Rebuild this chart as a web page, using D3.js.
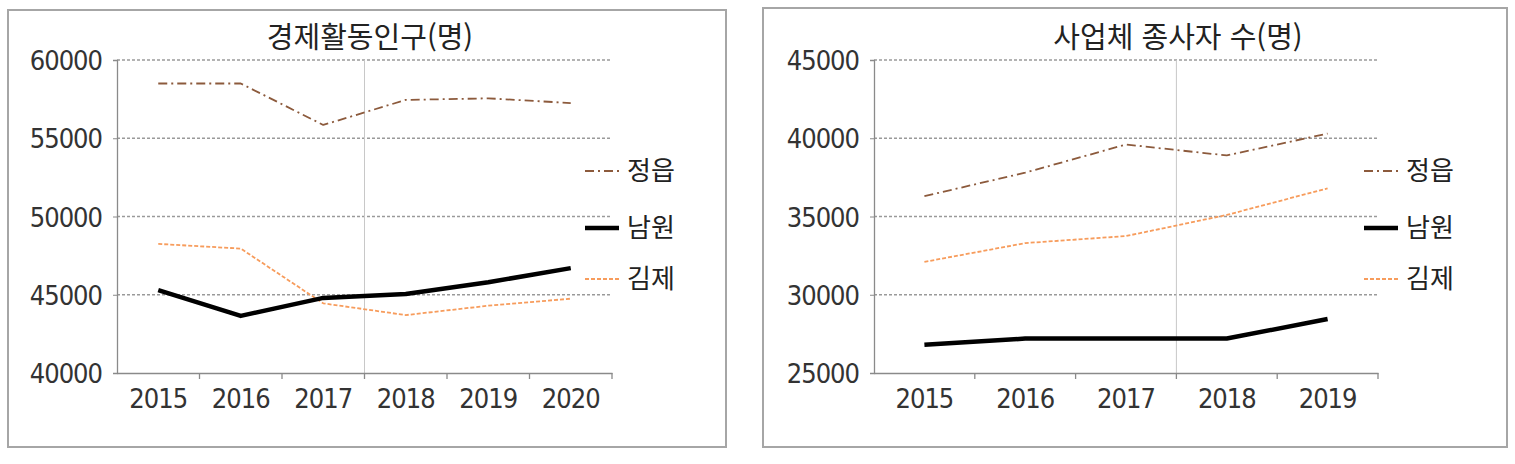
<!DOCTYPE html>
<html lang="ko">
<head>
  <meta charset="utf-8">
  <title>경제활동인구 / 사업체 종사자 수</title>
  <script src="https://d3js.org/d3.v7.min.js"></script>
  <style>
    body { margin: 0; background: #fff; }
    .frame { fill: none; stroke: #a6a6a6; stroke-width: 2; }
    .title { font-family: "Noto Sans CJK KR", sans-serif; font-size: 29px; fill: #222; }
    .ytick, .xtick { font-family: "DejaVu Sans", sans-serif; font-stretch: condensed; font-size: 27px; letter-spacing: -1px; fill: #333; }
    .legend { font-family: "Noto Sans CJK KR", sans-serif; font-size: 26px; fill: #222; }
  </style>
</head>
<body>
<script>
// series names
var names = ["정읍", "남원", "김제"];

// chart 1: 경제활동인구(명)
var years1 = ["2015", "2016", "2017", "2018", "2019", "2020"];
var jeongeup1 = [58500, 58500, 55850, 57450, 57550, 57250];
var namwon1 = [45300, 43650, 44800, 45050, 45800, 46700];
var gimje1 = [48250, 47950, 44450, 43700, 44300, 44750];
var ticks1 = [40000, 45000, 50000, 55000, 60000];

// chart 2: 사업체 종사자 수(명)
var years2 = ["2015", "2016", "2017", "2018", "2019"];
var jeongeup2 = [36300, 37800, 39600, 38900, 40300];
var namwon2 = [26800, 27200, 27200, 27200, 28450];
var gimje2 = [32100, 33300, 33750, 35100, 36800];
var ticks2 = [25000, 30000, 35000, 40000, 45000];

var styles = [
  { color: "#8c5a3c", width: 1.8, dash: "9,4,2,4" },
  { color: "#000000", width: 4.5, dash: null },
  { color: "#f79c5c", width: 1.8, dash: "4,2" }
];

var svg = d3.select("body").append("svg")
  .attr("width", 1515)
  .attr("height", 464);

function drawChart(opt) {
  var g = svg.append("g");

  g.append("rect").attr("class", "frame")
    .attr("x", opt.box[0]).attr("y", opt.box[1])
    .attr("width", opt.box[2]).attr("height", opt.box[3]);

  var x = d3.scaleBand().domain(opt.years).range([opt.x0, opt.x1]);
  var y = d3.scaleLinear().domain([opt.ticks[0], opt.ticks[opt.ticks.length - 1]]).range([373, 60]);

  // gridlines
  g.selectAll(".grid").data(opt.ticks.slice(1)).enter().append("line")
    .attr("x1", opt.x0).attr("x2", opt.x1)
    .attr("y1", d => y(d)).attr("y2", d => y(d))
    .attr("stroke", "#9a9a9a").attr("stroke-width", 1.3)
    .attr("stroke-dasharray", "3,2");

  // the thin vertical line in the middle of the plot
  g.append("line")
    .attr("x1", x(opt.years[opt.mid]) ).attr("x2", x(opt.years[opt.mid]))
    .attr("y1", 60).attr("y2", 373)
    .attr("stroke", "#c8c8c8").attr("stroke-width", 1);

  // y axis
  var yAxis = g.append("g").attr("transform", "translate(" + opt.x0 + ",0)")
    .call(d3.axisLeft(y).tickValues(opt.ticks).tickSize(4).tickFormat(d3.format("d")));
  yAxis.select(".domain").attr("stroke", "#8a8a8a").attr("stroke-width", 1.3);
  yAxis.selectAll(".tick line").attr("stroke", "#8a8a8a");
  yAxis.selectAll("text").attr("class", "ytick").attr("x", -15).attr("dy", "0.36em").attr("font-size", null).attr("font-family", null);

  // x axis
  var xAxis = g.append("g").attr("transform", "translate(0,373)")
    .call(d3.axisBottom(x).tickSize(0).tickSizeOuter(0));
  xAxis.select(".domain").attr("stroke", "#8a8a8a").attr("stroke-width", 1.3);
  xAxis.selectAll("text").attr("class", "xtick").attr("y", 16).attr("dy", "0.71em").attr("font-size", null).attr("font-family", null);

  // band separator ticks
  var edges = opt.years.map(d => x(d)).concat([opt.x1]);
  g.selectAll(".sep").data(edges.slice(1)).enter().append("line")
    .attr("x1", d => d).attr("x2", d => d)
    .attr("y1", 373).attr("y2", 379)
    .attr("stroke", "#8a8a8a").attr("stroke-width", 1.3);

  // title
  g.append("text").attr("class", "title")
    .attr("x", opt.titleX).attr("y", 48)
    .attr("text-anchor", "middle")
    .text(opt.title);

  var line = d3.line()
    .x((d, i) => x(opt.years[i]) + x.bandwidth() / 2)
    .y(d => y(d));

  // draw 김제 first, then 정읍, 남원 on top
  [2, 0, 1].forEach(function (k) {
    g.append("path")
      .datum(opt.series[k])
      .attr("fill", "none")
      .attr("stroke", styles[k].color)
      .attr("stroke-width", styles[k].width)
      .attr("stroke-dasharray", styles[k].dash)
      .attr("stroke-linejoin", "round")
      .attr("d", line);
  });

  // legend
  var legY = [171, 228, 279];
  names.forEach(function (n, k) {
    g.append("line")
      .attr("x1", opt.legX).attr("x2", opt.legX + 34)
      .attr("y1", legY[k]).attr("y2", legY[k])
      .attr("stroke", styles[k].color)
      .attr("stroke-width", styles[k].width)
      .attr("stroke-dasharray", styles[k].dash);
    g.append("text").attr("class", "legend")
      .attr("x", opt.legX + 42).attr("y", legY[k])
      .attr("dy", "0.36em")
      .text(n);
  });
}

drawChart({
  box: [8, 10, 718, 437],
  x0: 117, x1: 612,
  years: years1, ticks: ticks1, mid: 3,
  series: [jeongeup1, namwon1, gimje1],
  title: "경제활동인구(명)", titleX: 370,
  legX: 585
});

drawChart({
  box: [763, 8, 744, 439],
  x0: 874, x1: 1378,
  years: years2, ticks: ticks2, mid: 3,
  series: [jeongeup2, namwon2, gimje2],
  title: "사업체 종사자 수(명)", titleX: 1178,
  legX: 1364
});
</script>
</body>
</html>
